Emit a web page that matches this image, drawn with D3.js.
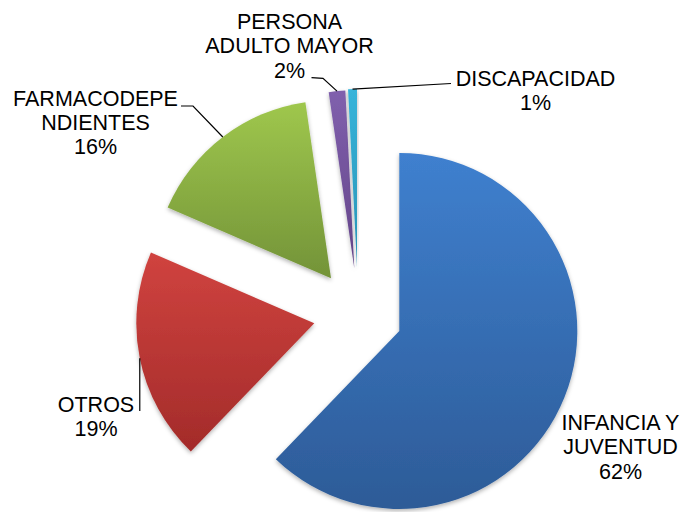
<!DOCTYPE html>
<html>
<head>
<meta charset="utf-8">
<script src="https://cdn.jsdelivr.net/npm/d3@7"></script>
<style>
  html, body { margin: 0; padding: 0; background: #fff; }
  svg { display: block; }
</style>
</head>
<body>
<div id="chart"></div>
<script>
// data
var categories = ["INFANCIA Y JUVENTUD", "OTROS", "FARMACODEPENDIENTES", "PERSONA ADULTO MAYOR", "DISCAPACIDAD"];
var values = [62.2, 19.3, 16.2, 1.5, 0.8];
var labelLines = [["INFANCIA Y", "JUVENTUD"], ["OTROS"], ["FARMACODEPE", "NDIENTES"], ["PERSONA", "ADULTO MAYOR"], ["DISCAPACIDAD"]];

// style
var colors = [
    ["#3f80cf", "#2d5b97"],
    ["#d0433f", "#a32b2a"],
    ["#9fc74d", "#739338"],
    ["#8060ad", "#644589"],
    ["#37b4da", "#2893b5"]
];
var sliceShift = [[0, 0], [-85, -7.7], [-68.3, -52.7], [-45, -62.7], [-42.3, -64]];
var labelPos = [[620.5, 430], [96, 411.5], [95.5, 105.5], [289.5, 29], [535.5, 86]];
var leaderPts = [[], [[140, 411]], [[193, 106], [181, 106]], [[323, 78.3], [311.5, 77.7]], [[451, 83.5]]];

var width = 680, height = 512,
    center = [399.3, 331],
    radius = 178,
    lineH = 24.3;

var svg = d3.select("#chart")
    .append("svg")
    .attr("width", width)
    .attr("height", height);

var defs = svg.append("defs");

colors.forEach(function(c, i) {
    var grad = defs.append("linearGradient")
        .attr("id", "grad" + i)
        .attr("x1", 0).attr("y1", 0)
        .attr("x2", 0).attr("y2", 1);
    grad.append("stop").attr("offset", "0%").attr("stop-color", c[0]);
    grad.append("stop").attr("offset", "100%").attr("stop-color", c[1]);
});

var shadow = defs.append("filter")
    .attr("id", "shadow")
    .attr("x", "-20%").attr("y", "-20%")
    .attr("width", "140%").attr("height", "140%");
shadow.append("feDropShadow")
    .attr("dx", 0).attr("dy", 2)
    .attr("stdDeviation", 2.2)
    .attr("flood-color", "#000")
    .attr("flood-opacity", 0.3);

var pie = d3.pie()
    .sort(null)
    .value(function(d) { return d; });

var arc = d3.arc()
    .innerRadius(0)
    .outerRadius(radius);

var arcs = pie(values);

var g = svg.append("g")
    .attr("transform", "translate(" + center[0] + "," + center[1] + ")");

// slices
g.selectAll(".slice")
    .data(arcs)
    .enter().append("path")
        .attr("class", "slice")
        .attr("transform", function(d, i) { return "translate(" + sliceShift[i][0] + "," + sliceShift[i][1] + ")"; })
        .attr("d", arc)
        .attr("fill", function(d, i) { return "url(#grad" + i + ")"; })
        .attr("filter", "url(#shadow)");

// leader lines: from the middle of the outer arc to the label
function outerMid(d, i) {
    var a = (d.startAngle + d.endAngle) / 2;
    return [center[0] + sliceShift[i][0] + radius * Math.sin(a),
            center[1] + sliceShift[i][1] - radius * Math.cos(a)];
}

var line = d3.line();

arcs.forEach(function(d, i) {
    if (!leaderPts[i].length) return;
    var p0 = outerMid(d, i);
    var pts = [p0].concat(leaderPts[i]);
    if (i === 1) pts[1] = [p0[0], leaderPts[i][0][1]];   // vertical leader
    svg.append("path")
        .attr("d", line(pts))
        .attr("fill", "none")
        .attr("stroke", "#000")
        .attr("stroke-width", 1.2);
});

// labels
arcs.forEach(function(d, i) {
    var lines = labelLines[i].concat([Math.round(values[i]) + "%"]);
    var t = svg.append("text")
        .attr("x", labelPos[i][0])
        .attr("y", labelPos[i][1])
        .attr("text-anchor", "middle")
        .attr("font-family", "'Liberation Sans', Arial, sans-serif")
        .attr("font-size", 21.5)
        .attr("fill", "#000");
    lines.forEach(function(s, k) {
        t.append("tspan")
            .attr("x", labelPos[i][0])
            .attr("dy", k === 0 ? 0 : lineH)
            .text(s);
    });
});
</script>
</body>
</html>
